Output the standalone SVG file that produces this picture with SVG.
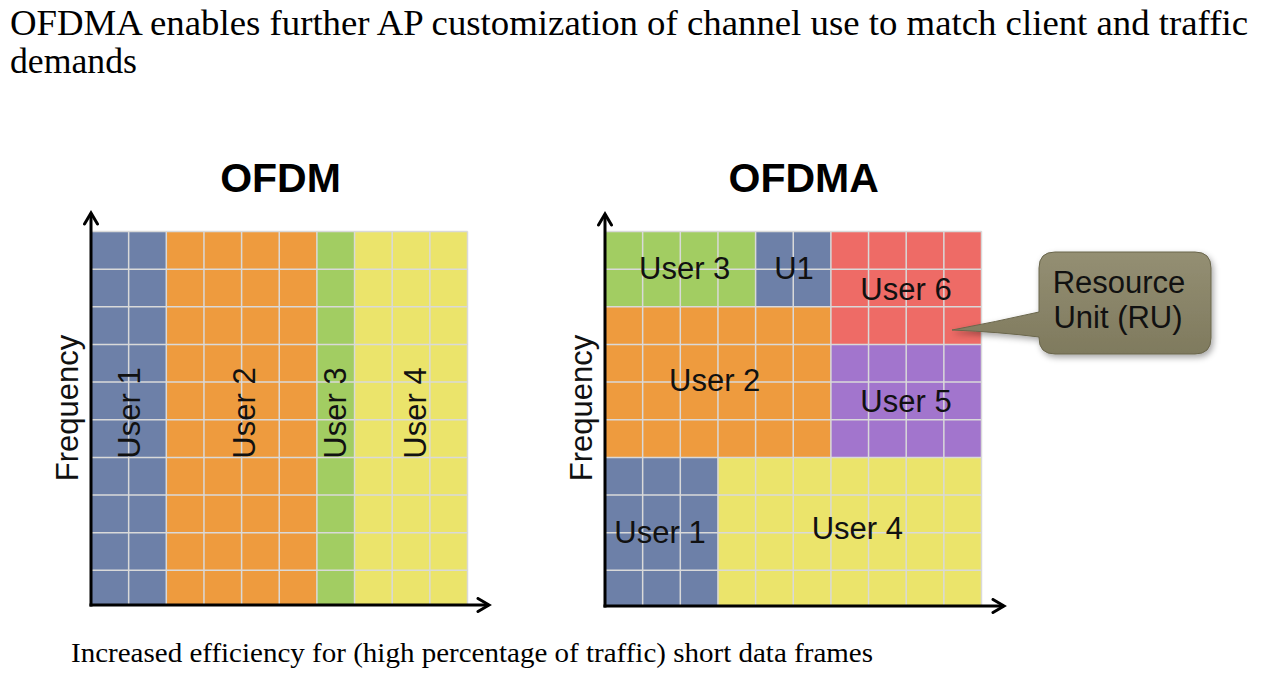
<svg xmlns="http://www.w3.org/2000/svg" width="1280" height="681" viewBox="0 0 1280 681">
<style>
.serif{font-family:"Liberation Serif","Times New Roman",serif;fill:#000}
.lbl{font-family:"Liberation Sans",Arial,sans-serif;font-size:31px;fill:#111}
.ttl{font-family:"Liberation Sans",Arial,sans-serif;font-size:41px;font-weight:bold;fill:#000}
.grid{fill:none;stroke:#d9d9d9;stroke-width:1.5}
.axis{fill:none;stroke:#000;stroke-width:3}
.blue{fill:#6d80a8}.orange{fill:#ee9b3e}.green{fill:#a2cd62}.yellow{fill:#ebe46b}.red{fill:#ee6b66}.purple{fill:#a275cd}
</style>
<defs>
<marker id="chev" viewBox="0 0 16 16" refX="13" refY="8" markerWidth="16" markerHeight="16" markerUnits="userSpaceOnUse" orient="auto">
<path d="M2,1.5 L13,8 L2,14.5" fill="none" stroke="#000" stroke-width="3" stroke-linecap="round" stroke-linejoin="miter"/>
</marker>
<linearGradient id="ruFill" x1="0" y1="0" x2="0" y2="1">
<stop offset="0" stop-color="#948f73"/>
<stop offset="1" stop-color="#7f7a5e"/>
</linearGradient>
<filter id="shadow" x="-20%" y="-20%" width="140%" height="150%">
<feDropShadow dx="2" dy="3" stdDeviation="3" flood-color="#000" flood-opacity="0.35"/>
</filter>
</defs>
<rect width="1280" height="681" fill="#fff"/>

<g id="heading">
<text class="serif" x="10" y="35" font-size="35" textLength="1238" lengthAdjust="spacingAndGlyphs">OFDMA enables further AP customization of channel use to match client and traffic</text>
<text class="serif" x="10" y="73" font-size="35" textLength="127" lengthAdjust="spacingAndGlyphs">demands</text>
</g>

<g id="ofdm-chart">
<text class="ttl" x="280.5" y="192" text-anchor="middle">OFDM</text>
<g id="ofdm-user1"><rect class="blue" x="91" y="231.5" width="75.3" height="374.5"/></g>
<g id="ofdm-user2"><rect class="orange" x="166.3" y="231.5" width="150.6" height="374.5"/></g>
<g id="ofdm-user3"><rect class="green" x="316.9" y="231.5" width="37.65" height="374.5"/></g>
<g id="ofdm-user4"><rect class="yellow" x="354.55" y="231.5" width="112.95" height="374.5"/></g>
<path class="grid" d="M91,231.5V606M128.65,231.5V606M166.3,231.5V606M203.95,231.5V606M241.6,231.5V606M279.25,231.5V606M316.9,231.5V606M354.55,231.5V606M392.2,231.5V606M429.85,231.5V606M467.5,231.5V606M91,231.5H467.5M91,269.15H467.5M91,306.8H467.5M91,344.45H467.5M91,382.1H467.5M91,419.75H467.5M91,457.4H467.5M91,495.05H467.5M91,532.7H467.5M91,570.35H467.5"/>
<text class="lbl" transform="translate(140,413) rotate(-90)" text-anchor="middle">User 1</text>
<text class="lbl" transform="translate(255,413) rotate(-90)" text-anchor="middle">User 2</text>
<text class="lbl" transform="translate(345.5,413) rotate(-90)" text-anchor="middle">User 3</text>
<text class="lbl" transform="translate(425.5,413) rotate(-90)" text-anchor="middle">User 4</text>
<text class="lbl" transform="translate(77.5,408) rotate(-90)" text-anchor="middle">Frequency</text>
</g>

<g id="ofdma-chart">
<text class="ttl" x="803.7" y="192" text-anchor="middle">OFDMA</text>
<g id="ofdma-user3"><rect class="green" x="605" y="231.5" width="150.6" height="75.3"/></g>
<g id="ofdma-u1"><rect class="blue" x="755.6" y="231.5" width="75.3" height="75.3"/></g>
<g id="ofdma-user6"><rect class="red" x="830.9" y="231.5" width="150.6" height="112.95"/></g>
<g id="ofdma-user2"><rect class="orange" x="605" y="306.8" width="225.9" height="150.6"/></g>
<g id="ofdma-user5"><rect class="purple" x="830.9" y="344.45" width="150.6" height="112.95"/></g>
<g id="ofdma-user1"><rect class="blue" x="605" y="457.4" width="112.95" height="148.6"/></g>
<g id="ofdma-user4"><rect class="yellow" x="717.95" y="457.4" width="263.55" height="148.6"/></g>
<path class="grid" d="M605,231.5V606M642.65,231.5V606M680.3,231.5V606M717.95,231.5V606M755.6,231.5V606M793.25,231.5V606M830.9,231.5V606M868.55,231.5V606M906.2,231.5V606M943.85,231.5V606M981.5,231.5V606M605,231.5H981.5M605,269.15H981.5M605,306.8H981.5M605,344.45H981.5M605,382.1H981.5M605,419.75H981.5M605,457.4H981.5M605,495.05H981.5M605,532.7H981.5M605,570.35H981.5"/>
<text class="lbl" x="684.7" y="279" text-anchor="middle">User 3</text>
<text class="lbl" x="794" y="279" text-anchor="middle">U1</text>
<text class="lbl" x="906" y="300" text-anchor="middle">User 6</text>
<text class="lbl" x="714.7" y="391" text-anchor="middle">User 2</text>
<text class="lbl" x="906" y="411.7" text-anchor="middle">User 5</text>
<text class="lbl" x="660" y="542.7" text-anchor="middle">User 1</text>
<text class="lbl" x="857.3" y="539.3" text-anchor="middle">User 4</text>
<text class="lbl" transform="translate(591.7,408) rotate(-90)" text-anchor="middle">Frequency</text>
</g>

<g id="connectors">
<path class="axis" d="M91,606.5V213" marker-end="url(#chev)"/>
<path class="axis" d="M89.5,605H489" marker-end="url(#chev)"/>
<path class="axis" d="M605,607.5V214" marker-end="url(#chev)"/>
<path class="axis" d="M603.5,606H1004" marker-end="url(#chev)"/>
</g>

<g id="ru-callout">
<path d="M1055,252H1195Q1211,252 1211,268V338Q1211,354 1195,354H1055Q1039,354 1039,338V337Q1000,332 952,330Q995,322 1039,312V268Q1039,252 1055,252Z" fill="url(#ruFill)" stroke="#6a664c" stroke-width="1" filter="url(#shadow)"/>
<text class="lbl" x="1119" y="293" text-anchor="middle" font-size="30">Resource</text>
<text class="lbl" x="1118" y="328" text-anchor="middle" font-size="30">Unit (RU)</text>
</g>

<g id="caption">
<text class="serif" x="71" y="661.5" font-size="28" textLength="802" lengthAdjust="spacingAndGlyphs">Increased efficiency for (high percentage of traffic) short data frames</text>
</g>
</svg>
